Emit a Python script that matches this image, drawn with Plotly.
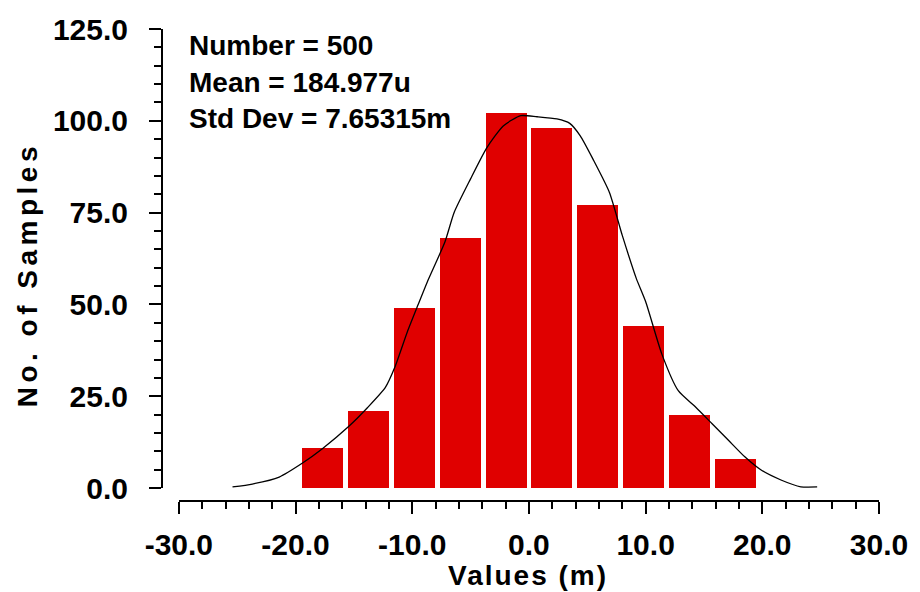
import plotly.graph_objects as go

# ---- data ----
bin_centers = [-17.67, -13.74, -9.82, -5.89, -1.96, 1.96, 5.89, 9.82, 13.74, 17.67]
bin_counts = [11, 21, 49, 68, 102, 98, 77, 44, 20, 8]
bar_width = 3.52

curve_x = [-25.4, -23.7, -21.4, -19.4, -17.7, -15.5, -13.8, -12.3, -11.5, -10.4,
           -9.5, -8.7, -7.2, -6.4, -5.0, -3.6, -2.2, -0.7, 0.7, 2.4, 3.5, 4.4,
           5.5, 6.9, 8.0, 9.2, 10.0, 11.4, 12.8, 14.3, 15.7, 17.1, 18.5, 19.9,
           21.6, 23.3, 24.7]
curve_y = [0.3, 1.1, 3.0, 6.8, 10.7, 16.6, 22.0, 27.4, 32.8, 42.7,
           49.9, 56.2, 67.0, 75.1, 84.2, 92.7, 98.6, 101.4, 101.1, 100.5, 99.3, 95.9,
           89.5, 80.5, 68.8, 57.1, 50.8, 36.4, 26.5, 22.0, 17.5, 13.0, 8.5, 4.9,
           2.2, 0.35, 0.3]

x_tick_vals = [-30, -20, -10, 0, 10, 20, 30]
x_tick_text = ["-30.0", "-20.0", "-10.0", "0.0", "10.0", "20.0", "30.0"]
y_tick_vals = [0, 25, 50, 75, 100, 125]
y_tick_text = ["0.0", "25.0", "50.0", "75.0", "100.0", "125.0"]

stats_lines = ["Number = 500", "Mean = 184.977u", "Std Dev = 7.65315m"]
x_title = "Values (m)"
y_title = "No. of Samples"

# ---- layout geometry (pixels) ----
W, H = 920, 592
L, R, T, B = 162, 34, 27, 91
PW, PH = W - L - R, H - T - B


def px(x):
    return (x - L) / PW


def py(y):
    return (H - B - y) / PH


FONT = "Liberation Sans, Arial, sans-serif"

fig = go.Figure()
fig.add_trace(go.Bar(
    x=bin_centers, y=bin_counts, width=bar_width,
    marker=dict(color="#e00000", line=dict(width=0)),
    showlegend=False,
))
fig.add_trace(go.Scatter(
    x=curve_x, y=curve_y, mode="lines",
    line=dict(color="black", width=1.3, shape="spline", smoothing=0.6),
    showlegend=False,
))

axis_common = dict(
    showline=True, linecolor="black", linewidth=2,
    ticks="outside", ticklen=12, tickwidth=2, tickcolor="black",
    showgrid=False, zeroline=False, tickmode="array",
    tickfont=dict(family=FONT, size=30, color="black", weight="bold"),
    fixedrange=True,
)

fig.update_layout(
    width=W, height=H,
    margin=dict(l=L, r=R, t=T, b=B, pad=0),
    paper_bgcolor="white", plot_bgcolor="white",
    xaxis=dict(
        axis_common,
        domain=[px(179), 1], range=[-30, 30],
        tickvals=x_tick_vals, ticktext=x_tick_text,
        anchor="free", position=0,
        minor=dict(dtick=2, tick0=0, ticks="outside", ticklen=7, tickwidth=2, tickcolor="black"),
        ticklabelstandoff=5,
    ),
    yaxis=dict(
        axis_common,
        domain=[py(488), 1], range=[0, 125],
        tickvals=y_tick_vals, ticktext=y_tick_text,
        anchor="free", position=0,
        minor=dict(dtick=5, tick0=0, ticks="outside", ticklen=7, tickwidth=2, tickcolor="black"),
        ticklabelstandoff=15,
    ),
    bargap=0,
)

ann = []
for i, line in enumerate(stats_lines):
    ann.append(dict(
        text=line, xref="paper", yref="paper", x=px(187), y=py(44 + i * 36.5),
        xanchor="left", yanchor="middle", showarrow=False,
        font=dict(family=FONT, size=28, color="black", weight="bold"),
    ))
ann.append(dict(
    text='<span style="letter-spacing:2px">' + x_title + '</span>',
    xref="paper", yref="paper", x=px(532), y=py(576),
    xanchor="center", yanchor="middle", showarrow=False,
    font=dict(family=FONT, size=28, color="black", weight="bold"),
))
ann.append(dict(
    text='<span style="letter-spacing:4.5px">' + y_title + '</span>',
    xref="paper", yref="paper", x=px(27), y=py(274),
    xanchor="center", yanchor="middle", showarrow=False, textangle=-90,
    font=dict(family=FONT, size=28, color="black", weight="bold"),
))
fig.update_layout(annotations=ann)

fig.write_html("out.html")
